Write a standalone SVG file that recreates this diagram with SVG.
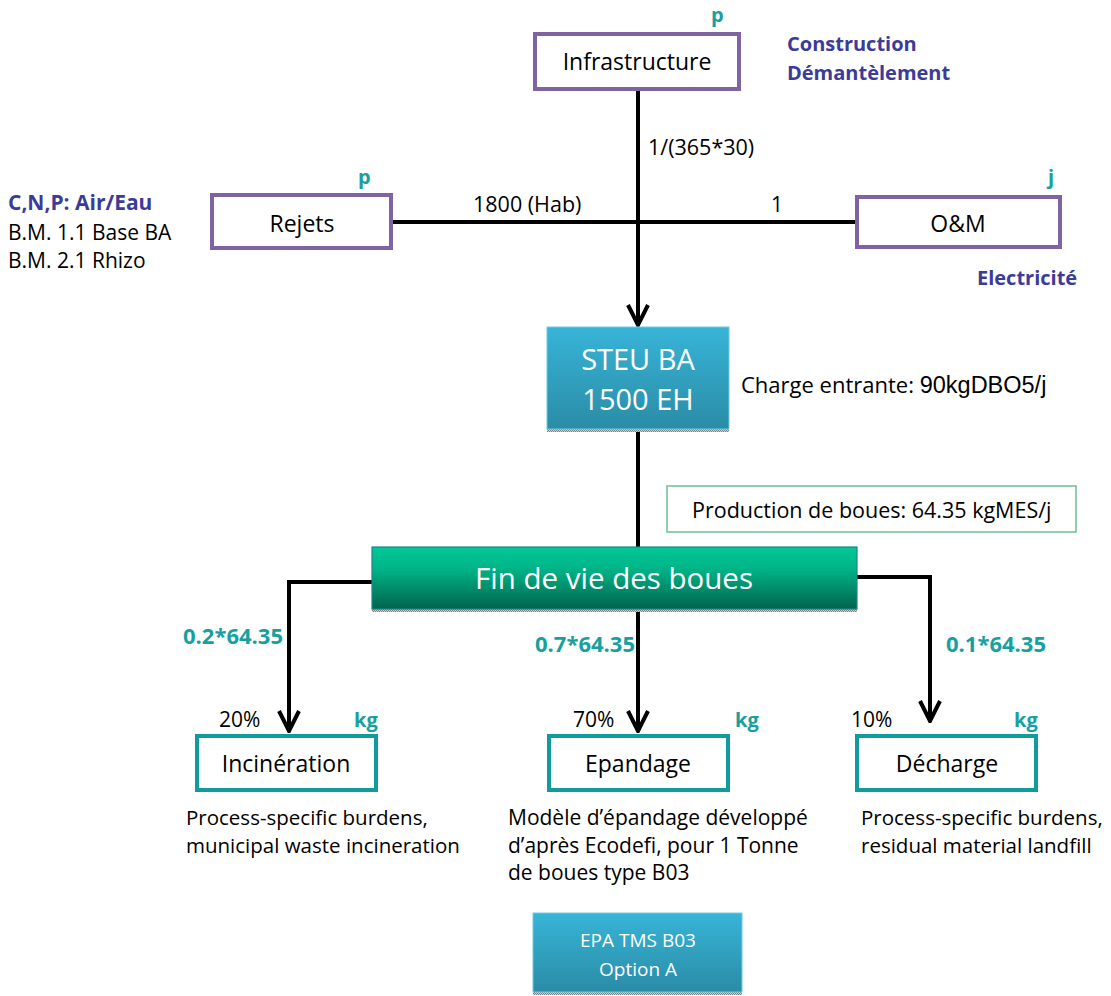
<svg xmlns="http://www.w3.org/2000/svg" width="1111" height="996" viewBox="0 0 1111 996">
<defs>
<style>
.t{font-family:"Open Sans","Liberation Sans",sans-serif;fill:#000}
.c{text-anchor:middle}
.box-p{fill:#fff;stroke:#8064A2;stroke-width:4}
.box-t{fill:#fff;stroke:#109C9C;stroke-width:4}
.lbl-t{font-family:"Open Sans","Liberation Sans",sans-serif;font-weight:bold;fill:#17A0A0;font-size:20px}
.num{font-size:22px}
.lbl-b{font-family:"Open Sans","Liberation Sans",sans-serif;font-weight:bold;fill:#3C3B98;font-size:20px}
.w{font-family:"Open Sans","Liberation Sans",sans-serif;fill:#fff;text-anchor:middle}
.conn{fill:none;stroke:#000;stroke-width:4}
</style>
<linearGradient id="gBlue" x1="0" y1="0" x2="0" y2="1">
<stop offset="0" stop-color="#38B4D8"/>
<stop offset="1" stop-color="#2A8CA6"/>
</linearGradient>
<linearGradient id="gGreen" x1="0" y1="0" x2="0" y2="1">
<stop offset="0" stop-color="#00C898"/>
<stop offset="0.35" stop-color="#00B487"/>
<stop offset="1" stop-color="#00644E"/>
</linearGradient>
<pattern id="dots" width="2" height="2" patternUnits="userSpaceOnUse">
<rect width="2" height="2" fill="#d0d0d0"/>
<rect width="1" height="1" fill="#808080"/>
<rect x="1" y="1" width="1" height="1" fill="#808080"/>
</pattern>
<marker id="arr" viewBox="-24 -12 26 24" markerWidth="26" markerHeight="24" refX="0" refY="0" orient="auto" markerUnits="userSpaceOnUse">
<path d="M-20,-10 L0,0 L-20,10" fill="none" stroke="#000" stroke-width="4"/>
</marker>
</defs>
<rect width="1111" height="996" fill="#fff"/>

<g id="connectors">
<path class="conn" d="M638,91 V325" marker-end="url(#arr)"/>
<path class="conn" d="M393,222 H856"/>
<path class="conn" d="M638,429 V547"/>
<path class="conn" d="M372,582 H289 V731" marker-end="url(#arr)"/>
<path class="conn" d="M638,609 V731" marker-end="url(#arr)"/>
<path class="conn" d="M857,577 H930 V721" marker-end="url(#arr)"/>
<text class="t" x="648" y="155" font-size="21.5">1/(365*30)</text>
<text class="t" x="473" y="212" font-size="21.5">1800 (Hab)</text>
<text class="t" x="771" y="212" font-size="21">1</text>
<text class="lbl-t num" x="183" y="644">0.2*64.35</text>
<text class="lbl-t num" x="535" y="652">0.7*64.35</text>
<text class="lbl-t num" x="946" y="652">0.1*64.35</text>
</g>

<g id="infrastructure">
<rect class="box-p" x="535" y="34" width="204" height="55"/>
<text class="t c" x="637" y="70" font-size="23">Infrastructure</text>
<text class="lbl-t" x="711" y="22">p</text>
<text class="lbl-b" x="787" y="51">Construction</text>
<text class="lbl-b" x="787" y="80">Démantèlement</text>
</g>

<g id="rejets">
<rect class="box-p" x="212" y="195" width="179" height="53"/>
<text class="t c" x="302" y="232" font-size="23">Rejets</text>
<text class="lbl-t" x="358" y="184">p</text>
<text class="lbl-b" x="8" y="210" style="font-size:21px">C,N,P: Air/Eau</text>
<text class="t" x="8" y="240" font-size="21">B.M. 1.1 Base BA</text>
<text class="t" x="8" y="268" font-size="21">B.M. 2.1 Rhizo</text>
</g>

<g id="om">
<rect class="box-p" x="857" y="197" width="203" height="50"/>
<text class="t c" x="958" y="232" font-size="23">O&amp;M</text>
<text class="lbl-t" x="1048" y="184">j</text>
<text class="lbl-b" x="977" y="285">Electricité</text>
</g>

<g id="steu">
<rect x="547" y="429" width="182" height="3" fill="url(#dots)"/>
<rect x="547" y="327" width="182" height="102" fill="url(#gBlue)" stroke="#6CCBE4" stroke-width="1"/>
<text class="w" x="638" y="370" font-size="29">STEU BA</text>
<text class="w" x="638" y="410" font-size="29">1500 EH</text>
<text class="t" x="741" y="393" font-size="22">Charge entrante: <tspan style="font-family:'Liberation Sans',Arial,sans-serif;font-size:23.5px">90kgDBO5/j</tspan></text>
</g>

<g id="production">
<rect x="667" y="486" width="409" height="46" fill="#fff" stroke="#6CBE93" stroke-width="1.5"/>
<text class="t" x="692" y="518" font-size="21.5">Production de boues: 64.35 kgMES/j</text>
</g>

<g id="findevie">
<rect x="372" y="609" width="485" height="3" fill="url(#dots)"/>
<rect x="372" y="547" width="485" height="62" fill="url(#gGreen)" stroke="#1B8585" stroke-width="1.2"/>
<text class="w" x="614" y="589" font-size="29.5">Fin de vie des boues</text>
</g>

<g id="incineration">
<rect class="box-t" x="197" y="736" width="179" height="54"/>
<text class="t c" x="286" y="772" font-size="23">Incinération</text>
<text class="t" x="219" y="727" font-size="21">20%</text>
<text class="lbl-t" x="354" y="727">kg</text>
<text class="t" x="186" y="825" font-size="20.5">Process-specific burdens,</text>
<text class="t" x="186" y="853" font-size="20.5">municipal waste incineration</text>
</g>

<g id="epandage">
<rect class="box-t" x="549" y="736" width="179" height="54"/>
<text class="t c" x="638" y="772" font-size="23">Epandage</text>
<text class="t" x="573" y="727" font-size="21">70%</text>
<text class="lbl-t" x="735" y="727">kg</text>
<text class="t" x="508" y="825" font-size="21">Modèle d’épandage développé</text>
<text class="t" x="508" y="853" font-size="21">d’après Ecodefi, pour 1 Tonne</text>
<text class="t" x="508" y="880" font-size="21">de boues type B03</text>
</g>

<g id="decharge">
<rect class="box-t" x="857" y="736" width="179" height="54"/>
<text class="t c" x="947" y="772" font-size="23">Décharge</text>
<text class="t" x="851" y="727" font-size="21">10%</text>
<text class="lbl-t" x="1014" y="727">kg</text>
<text class="t" x="861" y="825" font-size="20.5">Process-specific burdens,</text>
<text class="t" x="861" y="853" font-size="20.5">residual material landfill</text>
</g>

<g id="epa">
<rect x="533" y="992" width="209" height="3" fill="url(#dots)"/>
<rect x="533" y="913" width="209" height="79" fill="url(#gBlue)" stroke="#6CCBE4" stroke-width="1"/>
<text class="w" x="638" y="947" font-size="19">EPA TMS B03</text>
<text class="w" x="638" y="976" font-size="19">Option A</text>
</g>
</svg>
